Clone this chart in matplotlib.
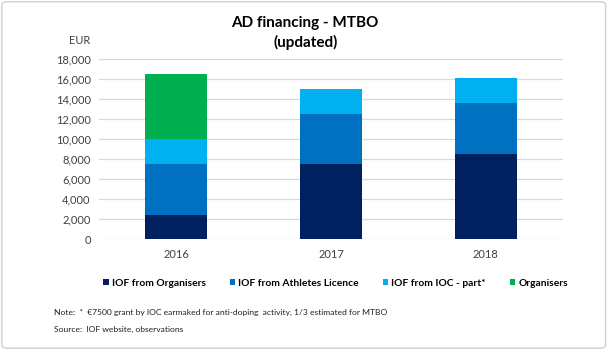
import matplotlib.pyplot as plt
from matplotlib.patches import FancyBboxPatch
import numpy as np

plt.rcParams['font.family'] = ['Lato', 'DejaVu Sans']

years = ["2016", "2017", "2018"]
iof_organisers = [2400, 7500, 8500]
iof_athletes = [5100, 5000, 5100]
iof_ioc = [2500, 2500, 2500]
organisers = [6500, 0, 0]

labels = ["IOF from Organisers", "IOF from Athletes Licence", "IOF from IOC - part*", "Organisers"]
colors = ["#002060", "#0070C0", "#00B0F0", "#00B050"]

fig = plt.figure(figsize=(6.08, 3.5), dpi=100)
ax = fig.add_axes([0.163, 0.316, 0.763, 0.515])

x = np.arange(len(years))
bottom = np.zeros(len(years))
series = [iof_organisers, iof_athletes, iof_ioc, organisers]
for vals, lab, col in zip(series, labels, colors):
    ax.bar(x, vals, width=0.4, bottom=bottom, color=col, label=lab, zorder=3)
    bottom += np.array(vals)

ax.set_xlim(-0.5, 2.5)
ax.set_ylim(0, 18000)
ax.set_yticks(np.arange(0, 18001, 2000))
ax.yaxis.set_major_formatter(plt.FuncFormatter(lambda v, p: f"{int(v):,}"))
ax.set_xticks(x)
ax.set_xticklabels(years)
ax.grid(axis='y', color='#d9d9d9', linewidth=0.9, zorder=0)
for s in ax.spines.values():
    s.set_visible(False)
ax.tick_params(length=0, labelsize=8, colors='#404040', pad=6)
ax.tick_params(axis='x', pad=7)

ax.text(-0.02, 1.105, "EUR", transform=ax.transAxes, ha='right', va='center',
        fontsize=8, color='#404040')

fig.text(0.502, 0.905, "AD financing - MTBO\n(updated)", ha='center', va='center',
         fontsize=11, fontweight='bold', linespacing=1.45)

handles, lbls = ax.get_legend_handles_labels()
fig.legend(handles, lbls, loc='center', bbox_to_anchor=(0.552, 0.19), ncol=4, frameon=False,
           prop={'weight': 'bold', 'size': 7.4}, handlelength=0.55, handleheight=0.55,
           handletextpad=0.3, columnspacing=2.3)

fig.text(0.088, 0.108, "Note:  *  €7500 grant by IOC earmaked for anti-doping  activity, 1/3 estimated for MTBO",
         fontsize=6.1, va='center', color='#202020')
fig.text(0.088, 0.06, "Source:  IOF website, observations", fontsize=6.1, va='center', color='#202020')

frame = FancyBboxPatch((0.003, 0.005), 0.993, 0.99, boxstyle="round,pad=0,rounding_size=0.01",
                       transform=fig.transFigure, fill=False, edgecolor='#d0d0d0', linewidth=1)
fig.patches.append(frame)

fig.savefig("out.png", dpi=100)
